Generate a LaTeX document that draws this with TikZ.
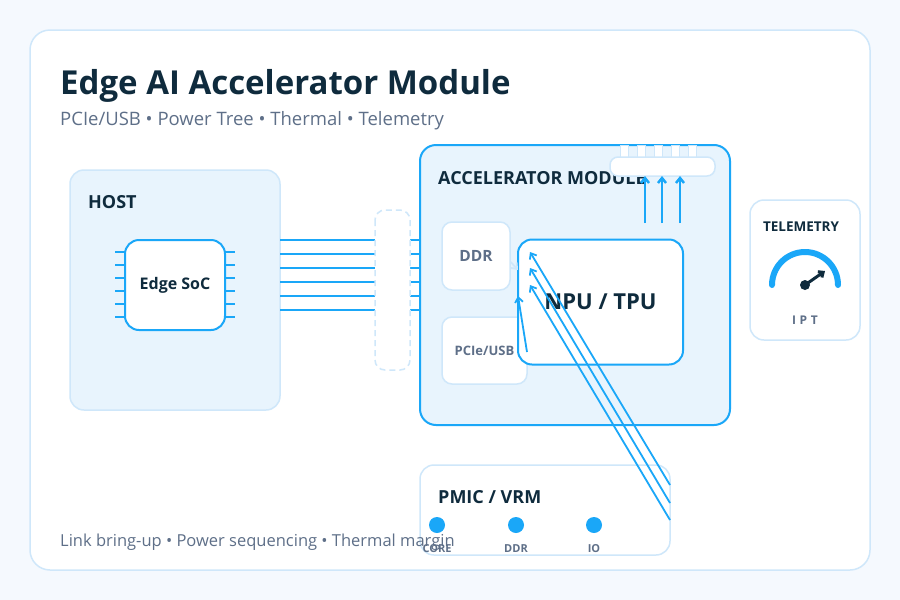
\documentclass[tikz,border=0pt]{standalone}
\usepackage{fontspec}
\setmainfont{Open Sans}
\usetikzlibrary{positioning}
\usetikzlibrary{arrows.meta}
\definecolor{ink}{HTML}{0F2B3D}
\definecolor{grey}{HTML}{5E6F88}
\definecolor{blu}{HTML}{1AA7F8}
\definecolor{pale}{HTML}{CFE7FA}
\definecolor{tint}{HTML}{E8F4FD}
\definecolor{bg}{HTML}{F5F9FE}
\begin{document}
\begin{tikzpicture}[x=1pt,y=-1pt,
    card/.style={draw=pale,line width=1.5pt,fill=white,rounded corners=12pt},
    zone/.style={draw=pale,line width=1.5pt,fill=tint,rounded corners=14pt},
    chip/.style={draw=blu,line width=2pt,fill=white,rounded corners=14pt},
    ttl/.style={font=\bfseries\fontsize{18}{20}\selectfont,text=ink,anchor=base west,inner sep=0pt},
    lbl/.style={font=\bfseries\fontsize{11}{13}\selectfont,text=grey,inner sep=0pt},
    bus/.style={blu,line width=2.5pt},
    flow/.style={blu,line width=1.8pt,-{Straight Barb[length=5pt,width=8pt]}}]
        \useasboundingbox (0,0) rectangle (900,600);
        \fill[bg] (0,0) rectangle (900,600);
        \draw[draw=pale,line width=1.5pt,fill=white,rounded corners=20pt] (30,30) rectangle (870,570);
        %
        \node[anchor=base west,inner sep=0pt,text=ink,font=\bfseries\fontsize{33}{36}\selectfont](title) at (60,94){Edge AI Accelerator Module};
        \node[anchor=base west,inner sep=0pt,text=grey,font=\fontsize{18.5}{21}\selectfont](sub) at (60,125){PCIe/USB • Power Tree • Thermal • Telemetry};
        %
        \draw[zone] (70,170) rectangle (280,410);
        \node[ttl](host) at (88,208){HOST};
        \foreach \y in {252,265,278,291,304,317}{
            \draw[blu,line width=1.5pt] (115,\y) -- (235,\y);
        }
        \node[chip,minimum width=100pt,minimum height=90pt,font=\bfseries\fontsize{16}{18}\selectfont,text=ink](soc) at (175,285){Edge SoC};
        %
        \foreach \y in {240,254,268,282,296,310}{
            \draw[bus] (280,\y) -- (420,\y);
        }
        \draw[draw=pale,line width=1.5pt,dashed,dash pattern=on 6pt off 4pt,fill=white,rounded corners=10pt] (375,210) rectangle (410,370);
        %
        \draw[draw=blu,line width=2pt,fill=tint,rounded corners=16pt] (420,145) rectangle (730,425);
        \node[ttl](acc) at (438,184){ACCELERATOR MODULE};
        \foreach \x in {620,637,654,671,688}{
            \draw[draw=pale,line width=1pt,fill=white] (\x,145) rectangle ++(8,13);
        }
        \draw[draw=pale,line width=1.5pt,fill=white,rounded corners=8pt] (610,157) rectangle (715,176);
        \coordinate(hs) at (662,175);
        \foreach \x in {645,662,680}{
            \draw[flow,line width=2.5pt] (\x,223) -- (\x,176);
        }
        %
        \node[card,rounded corners=10pt,minimum width=68pt,minimum height=68pt,font=\bfseries\fontsize{15.5}{18}\selectfont,text=grey](ddr) at (476,256){DDR};
        \node[card,rounded corners=10pt,minimum width=85pt,minimum height=67pt,text=grey,font=\bfseries\fontsize{13}{15}\selectfont](pcie) at (484.5,350.5){PCIe/USB};
        \node[chip,minimum width=165pt,minimum height=125pt,font=\bfseries\fontsize{22}{24}\selectfont,text=ink](npu) at (600.5,302){NPU / TPU};
        \draw[pale,line width=1.8pt,-{Straight Barb[length=5pt,width=8pt]}] (ddr.east) ++(0,6) -- (518,270);
        \draw[flow] (527,352) -- (518,296);
        %
        \draw[card,rounded corners=14pt] (420,465) rectangle (670,555);
        \node[ttl](pmic) at (438,503){PMIC / VRM};
        \coordinate(v1) at (670,485);
        \coordinate(v2) at (670,503);
        \coordinate(v3) at (670,520);
        \draw[flow] (v1) -- (530,252);
        \draw[flow] (v2) -- (530,268);
        \draw[flow] (v3) -- (530,285);
        \foreach \x/\t in {437/CORE,516/DDR,594/IO}{
            \fill[blu] (\x,525) circle (8pt);
            \node[lbl] at (\x,549){\t};
        }
        %
        \node[anchor=base west,inner sep=0pt,text=grey,font=\fontsize{16.5}{19}\selectfont](foot) at (60,546){Link bring-up • Power sequencing • Thermal margin};
        %
        \draw[card,rounded corners=14pt] (750,200) rectangle (860,340);
        \node[font=\bfseries\fontsize{13.5}{15}\selectfont,text=ink,inner sep=0pt](tel) at (801,227){TELEMETRY};
        \draw[blu,line width=6pt,line cap=round] (772,285) arc[start angle=180,end angle=0,radius=33pt];
        \fill[ink] (805,285) circle (5pt);
        \draw[ink,line width=3pt,-{Straight Barb[length=4pt,width=7pt]}] (805,285) -- (825,271);
        \node[lbl,font=\bfseries\fontsize{12}{14}\selectfont\addfontfeature{LetterSpace=30}](ipt) at (805,320){IPT};
\end{tikzpicture}
\end{document}
